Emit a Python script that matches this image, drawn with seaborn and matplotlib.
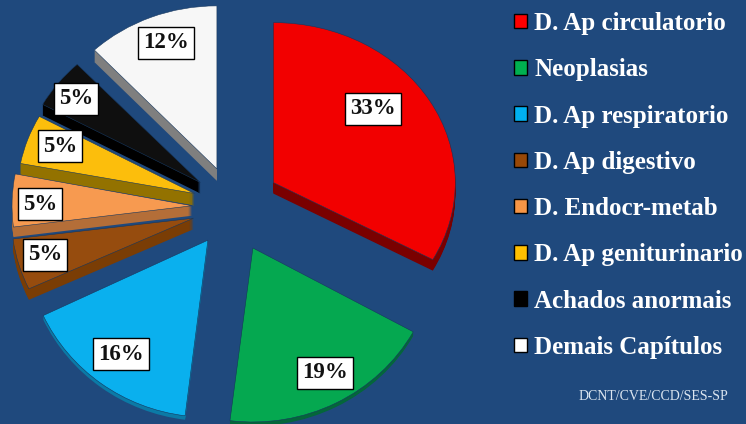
import matplotlib
matplotlib.use("Agg")
import matplotlib.pyplot as plt
from matplotlib.patches import Patch
from matplotlib.transforms import Affine2D
import seaborn as sns

categories = ["D. Ap circulatorio", "Neoplasias", "D. Ap respiratorio", "D. Ap digestivo",
              "D. Endocr-metab", "D. Ap geniturinario", "Achados anormais", "Demais Capítulos"]
values = [33, 19, 16, 5, 5, 5, 5, 12]
source = "DCNT/CVE/CCD/SES-SP"

# colours
bg = "#1f497d"
top_colors = ["#f20000", "#05a850", "#0ab0ee", "#964c0e", "#f79a50", "#fcbe0c", "#0f0f0f", "#f7f7f7"]
side_colors = ["#7a0000", "#04663a", "#0b7aa6", "#7a3d05", "#b46e38", "#937200", "#000000", "#7f7f7f"]
legend_colors = ["#ff0000", "#00b050", "#00b0f0", "#984807", "#f79646", "#ffc000", "#000000", "#ffffff"]

# layout of the exploded wedges, in pixels
center = (232, 217)
radius = 180
explode = [48, 46, 41, 40, 40, 40, 40, 41]
rx = [182, 183, 182, 182, 180, 177, 180, 179]
ry = [160, 174, 177, 166, 170, 160, 162, 163]
depth = [11, 4, 4, 11, 10, 12, 11, 12]
label_pos = [(373, 109), (325, 373), (121, 354), (45, 255), (40, 204), (60, 146), (76, 99), (166, 43)]

sns.set_theme(style="white")
plt.rcParams["font.family"] = ["Liberation Serif", "DejaVu Serif"]

fig = plt.figure(figsize=(7.46, 4.24), dpi=100, facecolor=bg)
ax = fig.add_axes([0, 0, 1, 1])


def place(wedges, level):
    # squash each wedge around its own apex, then push it down for the side face
    for w, a, b in zip(wedges, rx, ry):
        cx, cy = w.center
        w.set_radius(a)
        w.set_transform(Affine2D().translate(-cx, -cy).scale(1, b / a).translate(cx, cy - level) + ax.transData)


# side faces, stacked from the lowest layer upwards
for level in range(max(depth), 0, -1):
    wedges, _ = ax.pie(values, colors=sns.color_palette(side_colors), explode=explode, startangle=90,
                       counterclock=False, radius=radius, center=center, wedgeprops={"linewidth": 0})
    place(wedges, level)
    for w, d in zip(wedges, depth):
        if level > d:
            w.remove()

wedges, _, autotexts = ax.pie(values, colors=sns.color_palette(top_colors), explode=explode, startangle=90,
                              counterclock=False, radius=radius, center=center, autopct="%.0f%%",
                              wedgeprops={"edgecolor": "#16375e", "linewidth": 0.4})
place(wedges, 0)

for t, (x, y) in zip(autotexts, label_pos):
    t.set_position((x, 424 - y))
    t.set_fontsize(16.5)
    t.set_fontweight("bold")
    t.set_color("#111111")
    t.set_bbox({"facecolor": "white", "edgecolor": "black", "linewidth": 1, "boxstyle": "square,pad=0.22"})
    t.set_zorder(5)

ax.set_aspect("auto")
ax.set_xlim(0, 746)
ax.set_ylim(0, 424)
ax.axis("off")

handles = [Patch(facecolor=c, edgecolor="black", linewidth=1) for c in legend_colors]
leg = ax.legend(handles, categories, loc="upper left", bbox_to_anchor=(514 / 746, 1 - 12 / 424), frameon=False,
                labelcolor="white", handlelength=0.52, handleheight=0.52, handletextpad=0.3,
                labelspacing=0.93, borderpad=0, borderaxespad=0, prop={"weight": "bold", "size": 18})

ax.text(728, 424 - 397, source, ha="right", va="center", fontsize=10, color="#dce6f1")

fig.savefig("out.png", dpi=100, facecolor=bg)
